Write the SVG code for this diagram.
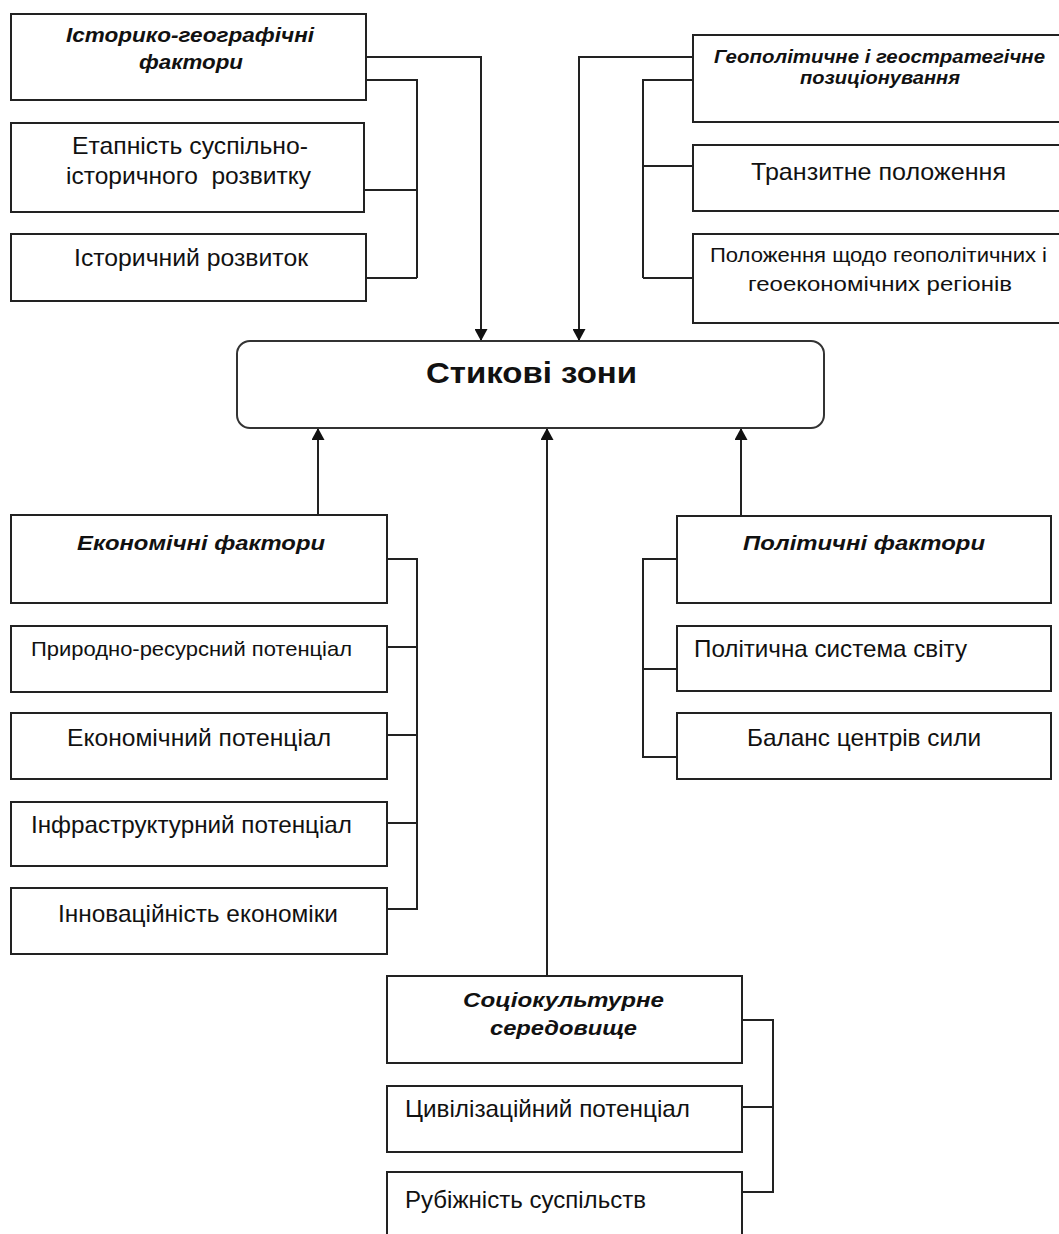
<svg xmlns="http://www.w3.org/2000/svg" width="1059" height="1234" viewBox="0 0 1059 1234">
<style>
  .box{fill:#fff;stroke:#222;stroke-width:2}
  .main{fill:#fff;stroke:#333;stroke-width:2}
  .t{font-family:"Liberation Sans",Arial,sans-serif;font-size:24px;fill:#111}
  .s{font-size:21px}
  .bi{font-family:"Liberation Sans",Arial,sans-serif;font-size:21px;font-weight:bold;font-style:italic;fill:#111}
  .bs{font-size:18px}
  .title{font-family:"Liberation Sans",Arial,sans-serif;font-size:30px;font-weight:bold;fill:#111}
  .c{fill:none;stroke:#222;stroke-width:2}
</style>
<defs>
  <marker id="ah" markerUnits="userSpaceOnUse" markerWidth="12" markerHeight="13" refX="12" refY="6.5" orient="auto">
    <path d="M0,0 L12,6.5 L0,13 z" fill="#111"/>
  </marker>
</defs>
<rect width="1059" height="1234" fill="#fff"/>

<g id="connectors">
  <path class="c" d="M366,57 H481 V341" marker-end="url(#ah)"/>
  <path class="c" d="M366,80 H417 V278 M364,190 H417 M364,278 H417"/>
  <path class="c" d="M693,57 H579 V341" marker-end="url(#ah)"/>
  <path class="c" d="M693,80 H643 V278 M693,166 H643 M693,278 H643"/>
  <path class="c" d="M318,515 V428" marker-end="url(#ah)"/>
  <path class="c" d="M387,559 H417 V909 H387 M387,647 H417 M387,735 H417 M387,823 H417"/>
  <path class="c" d="M741,516 V428" marker-end="url(#ah)"/>
  <path class="c" d="M677,559 H643 V757 H677 M643,669 H677"/>
  <path class="c" d="M547,976 V428" marker-end="url(#ah)"/>
  <path class="c" d="M742,1020 H773 V1192 H742 M742,1107 H773"/>
</g>

<g id="n-hist">
  <rect class="box" x="11" y="14" width="355" height="86"/>
  <text class="bi" x="66" y="42" textLength="248" lengthAdjust="spacingAndGlyphs">Історико-географічні</text>
  <text class="bi" x="139" y="69" textLength="104" lengthAdjust="spacingAndGlyphs">фактори</text>
</g>
<g id="n-etap">
  <rect class="box" x="11" y="123" width="353" height="89"/>
  <text class="t" x="72" y="154" textLength="236" lengthAdjust="spacingAndGlyphs">Етапність суспільно-</text>
  <text class="t" x="66" y="184" textLength="245" lengthAdjust="spacingAndGlyphs" xml:space="preserve">історичного  розвитку</text>
</g>
<g id="n-histdev">
  <rect class="box" x="11" y="234" width="355" height="67"/>
  <text class="t" x="74" y="266" textLength="234" lengthAdjust="spacingAndGlyphs">Історичний розвиток</text>
</g>

<g id="n-geo">
  <rect class="box" x="693" y="35" width="372" height="87"/>
  <text class="bi bs" x="714" y="63" textLength="331" lengthAdjust="spacingAndGlyphs">Геополітичне і геостратегічне</text>
  <text class="bi bs" x="800" y="84" textLength="160" lengthAdjust="spacingAndGlyphs">позиціонування</text>
</g>
<g id="n-transit">
  <rect class="box" x="693" y="145" width="372" height="66"/>
  <text class="t" x="751" y="180" textLength="255" lengthAdjust="spacingAndGlyphs">Транзитне положення</text>
</g>
<g id="n-regions">
  <rect class="box" x="693" y="234" width="372" height="89"/>
  <text class="t s" x="710" y="262" textLength="337" lengthAdjust="spacingAndGlyphs">Положення щодо геополітичних і</text>
  <text class="t s" x="748" y="291" textLength="264" lengthAdjust="spacingAndGlyphs">геоекономічних регіонів</text>
</g>

<g id="n-main">
  <rect class="main" x="237" y="341" width="587" height="87" rx="13" ry="13"/>
  <text class="title" x="426" y="383" textLength="211" lengthAdjust="spacingAndGlyphs">Стикові зони</text>
</g>

<g id="n-econ">
  <rect class="box" x="11" y="515" width="376" height="88"/>
  <text class="bi" x="77" y="550" textLength="248" lengthAdjust="spacingAndGlyphs">Економічні фактори</text>
</g>
<g id="n-natres">
  <rect class="box" x="11" y="626" width="376" height="66"/>
  <text class="t s" x="31" y="656" textLength="321" lengthAdjust="spacingAndGlyphs">Природно-ресурсний потенціал</text>
</g>
<g id="n-econpot">
  <rect class="box" x="11" y="713" width="376" height="66"/>
  <text class="t" x="67" y="746" textLength="264" lengthAdjust="spacingAndGlyphs">Економічний потенціал</text>
</g>
<g id="n-infra">
  <rect class="box" x="11" y="802" width="376" height="64"/>
  <text class="t" x="31" y="833" textLength="321" lengthAdjust="spacingAndGlyphs">Інфраструктурний потенціал</text>
</g>
<g id="n-innov">
  <rect class="box" x="11" y="888" width="376" height="66"/>
  <text class="t" x="58" y="922" textLength="280" lengthAdjust="spacingAndGlyphs">Інноваційність економіки</text>
</g>

<g id="n-pol">
  <rect class="box" x="677" y="516" width="374" height="87"/>
  <text class="bi" x="743" y="550" textLength="242" lengthAdjust="spacingAndGlyphs">Політичні фактори</text>
</g>
<g id="n-polsys">
  <rect class="box" x="677" y="626" width="374" height="65"/>
  <text class="t" x="694" y="657" textLength="273" lengthAdjust="spacingAndGlyphs">Політична система світу</text>
</g>
<g id="n-balance">
  <rect class="box" x="677" y="713" width="374" height="66"/>
  <text class="t" x="747" y="746" textLength="234" lengthAdjust="spacingAndGlyphs">Баланс центрів сили</text>
</g>

<g id="n-socio">
  <rect class="box" x="387" y="976" width="355" height="87"/>
  <text class="bi" x="463" y="1007" textLength="201" lengthAdjust="spacingAndGlyphs">Соціокультурне</text>
  <text class="bi" x="490" y="1035" textLength="147" lengthAdjust="spacingAndGlyphs">середовище</text>
</g>
<g id="n-civ">
  <rect class="box" x="387" y="1086" width="355" height="66"/>
  <text class="t" x="405" y="1117" textLength="285" lengthAdjust="spacingAndGlyphs">Цивілізаційний потенціал</text>
</g>
<g id="n-border">
  <rect class="box" x="387" y="1172" width="355" height="80"/>
  <text class="t" x="405" y="1208" textLength="241" lengthAdjust="spacingAndGlyphs">Рубіжність суспільств</text>
</g>
</svg>
